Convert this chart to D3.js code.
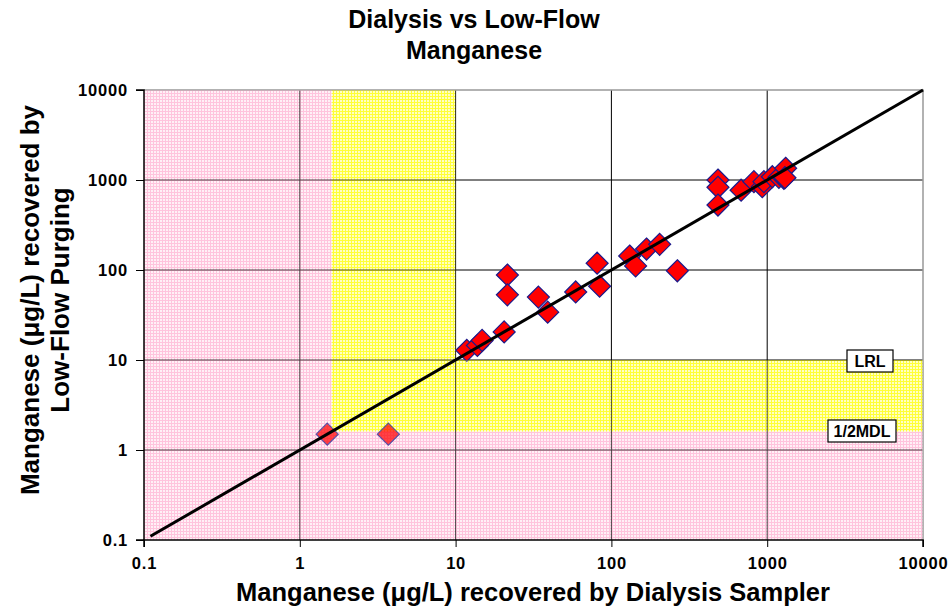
<!DOCTYPE html>
<html>
<head>
<meta charset="utf-8">
<script src="https://cdn.jsdelivr.net/npm/d3@7"></script>
<style>
  body { margin: 0; background: #fff; }
  svg { font-family: "Liberation Sans", Arial, sans-serif; }
</style>
</head>
<body>
<svg id="chart" width="950" height="608"></svg>
<script>
// data (ug/L)
const dialysis = [1.5, 3.7, 11.8, 13.8, 14.8, 20.5, 21.5, 21.5, 34, 39, 59, 81, 84,
  131, 143, 168, 204, 265, 483, 483, 483, 680, 822, 930, 953, 1079, 1189, 1280, 1313, 1300];
const lowflow = [1.5, 1.5, 12.8, 14.5, 16.5, 20.5, 88, 53, 50, 34, 57, 119, 66,
  143, 111, 171, 193, 98, 1000, 830, 527, 770, 958, 843, 958, 1088, 1071, 1045, 1349, 1060];
const halfMDL = 1.6;
const LRL = 10;
const ticks = [0.1, 1, 10, 100, 1000, 10000];
const tickLabels = ['0.1', '1', '10', '100', '1000', '10000'];

const pl = 144, pr = 923, pt = 90, pb = 540;

const svg = d3.select('#chart');

const x = d3.scaleLog().domain([0.1, 10000]).range([pl, pr]);
const y = d3.scaleLog().domain([0.1, 10000]).range([pb, pt]);

// fine grid patterns (Excel fill)
const defs = svg.append('defs');
function gridPattern(id, base, line){
  const p = defs.append('pattern')
    .attr('id', id)
    .attr('patternUnits', 'userSpaceOnUse')
    .attr('width', 3).attr('height', 3);
  p.append('rect').attr('width', 3).attr('height', 3).attr('fill', base);
  p.append('rect').attr('width', 3).attr('height', 1).attr('fill', line);
  p.append('rect').attr('width', 1).attr('height', 3).attr('fill', line);
}
gridPattern('pink', '#fff0f6', '#ffc4dd');
gridPattern('yellow', '#ffffc4', '#ffff38');

const plot = svg.append('g');

function bands(g, opacity){
  // yellow: between 1/2MDL and LRL on either axis
  g.append('rect')
    .attr('x', x(halfMDL)).attr('y', pt)
    .attr('width', x(LRL) - x(halfMDL)).attr('height', y(halfMDL) - pt)
    .attr('fill', 'url(#yellow)').attr('opacity', opacity);
  g.append('rect')
    .attr('x', x(LRL)).attr('y', y(LRL))
    .attr('width', pr - x(LRL)).attr('height', y(halfMDL) - y(LRL))
    .attr('fill', 'url(#yellow)').attr('opacity', opacity);
  // pink: below 1/2MDL on either axis
  g.append('rect')
    .attr('x', pl).attr('y', pt)
    .attr('width', x(halfMDL) - pl).attr('height', pb - pt)
    .attr('fill', 'url(#pink)').attr('opacity', opacity);
  g.append('rect')
    .attr('x', x(halfMDL)).attr('y', y(halfMDL))
    .attr('width', pr - x(halfMDL)).attr('height', pb - y(halfMDL))
    .attr('fill', 'url(#pink)').attr('opacity', opacity);
}
bands(plot.append('g'), 1);

// grid lines
plot.append('g').selectAll('line')
  .data(ticks.slice(1, -1)).join('line')
  .attr('x1', d => x(d)).attr('x2', d => x(d))
  .attr('y1', pt).attr('y2', pb)
  .attr('stroke', '#000').attr('stroke-width', 1);
plot.append('g').selectAll('line')
  .data(ticks.slice(1, -1)).join('line')
  .attr('x1', pl).attr('x2', pr)
  .attr('y1', d => y(d)).attr('y2', d => y(d))
  .attr('stroke', '#000').attr('stroke-width', 1);

// frame: gray top/right
plot.append('path')
  .attr('d', `M${pl},${pt}H${pr}V${pb}`)
  .attr('fill', 'none').attr('stroke', '#999').attr('stroke-width', 1.5);

// points
const pts = dialysis.map((d, i) => ({x: d, y: lowflow[i]}));
const r = 11;
plot.append('g').selectAll('path')
  .data(pts).join('path')
  .attr('d', `M0,${-r}L${r},0L0,${r}L${-r},0Z`)
  .attr('transform', d => `translate(${x(d.x)},${y(d.y)})`)
  .attr('fill', '#ff0000')
  .attr('stroke', '#1a1a8c').attr('stroke-width', 1.2);

// band tint over points that sit in the bands
bands(plot.append('g'), 0.28);

// 1:1 line
plot.append('line')
  .attr('x1', x(0.11)).attr('y1', y(0.11))
  .attr('x2', x(10000)).attr('y2', y(10000))
  .attr('stroke', '#000').attr('stroke-width', 3);

// axes
const xAxis = svg.append('g')
  .attr('transform', `translate(0,${pb})`)
  .call(d3.axisBottom(x).tickValues(ticks).tickFormat((d, i) => tickLabels[i]).tickSize(7).tickPadding(10));
const yAxis = svg.append('g')
  .attr('transform', `translate(${pl},0)`)
  .call(d3.axisLeft(y).tickValues(ticks).tickFormat((d, i) => tickLabels[i]).tickSize(8).tickPadding(8));
[xAxis, yAxis].forEach(a => {
  a.select('.domain').attr('stroke', '#000').attr('stroke-width', 1.5);
  a.selectAll('.tick line').attr('stroke', '#000');
  a.selectAll('.tick text')
    .attr('font-family', '"Liberation Sans", Arial, sans-serif')
    .attr('font-size', 16.5).attr('font-weight', 'bold').attr('fill', '#000')
    .attr('letter-spacing', 0.8);
});
xAxis.select('.domain').attr('d', `M${pl},7V0H${pr}V7`);
yAxis.select('.domain').attr('d', `M-8,${pt}H0V${pb}H-8`);

// band labels
function boxLabel(txt, cx, cy, w){
  const g = svg.append('g');
  g.append('rect')
    .attr('x', cx - w / 2).attr('y', cy - 11)
    .attr('width', w).attr('height', 22)
    .attr('fill', '#fff').attr('stroke', '#000').attr('stroke-width', 1.2);
  g.append('text')
    .attr('x', cx).attr('y', cy + 6)
    .attr('text-anchor', 'middle')
    .attr('font-size', 16).attr('font-weight', 'bold')
    .text(txt);
}
boxLabel('LRL', 870, 361, 46);
boxLabel('1/2MDL', 862, 431, 68);

// titles
svg.append('text')
  .attr('x', 474).attr('y', 28)
  .attr('text-anchor', 'middle')
  .attr('font-size', 25).attr('font-weight', 'bold')
  .text('Dialysis vs Low-Flow');
svg.append('text')
  .attr('x', 474).attr('y', 59)
  .attr('text-anchor', 'middle')
  .attr('font-size', 25).attr('font-weight', 'bold')
  .text('Manganese');

svg.append('text')
  .attr('x', 533).attr('y', 601)
  .attr('text-anchor', 'middle')
  .attr('font-size', 25.5).attr('font-weight', 'bold')
  .text('Manganese (μg/L) recovered by Dialysis Sampler');

const yl = svg.append('text')
  .attr('transform', 'translate(39,300) rotate(-90)')
  .attr('text-anchor', 'middle')
  .attr('font-size', 26).attr('font-weight', 'bold');
yl.append('tspan').attr('x', 0).attr('y', 0).text('Manganese (μg/L) recovered by');
yl.append('tspan').attr('x', 0).attr('y', 30).text('Low-Flow Purging');
</script>
</body>
</html>
